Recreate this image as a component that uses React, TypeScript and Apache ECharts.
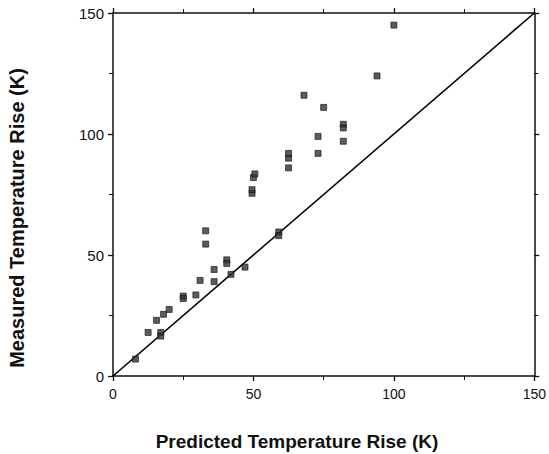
import React, { useEffect, useRef } from "react";
import * as echarts from "echarts";

const predicted = [8, 12.5, 15.5, 17, 17, 18, 20, 25, 25, 29.5, 31, 33, 33, 36, 36, 40.5, 40.5, 42, 47, 49.5, 49.5, 50, 50.5, 59, 59, 62.5, 62.5, 62.5, 68, 73, 73, 75, 82, 82, 82, 94, 100];
const measured = [7, 18, 23, 18, 16.5, 25.5, 27.5, 33, 32, 33.5, 39.5, 60, 54.5, 44, 39, 48, 46.5, 42, 45, 75.5, 77, 82, 83.5, 59.5, 58, 86, 90, 92, 116, 99, 92, 111, 104, 102.5, 97, 124, 145];
const identityLine = [[0, 0], [150, 150]];
const xTitle = "Predicted Temperature Rise (K)";
const yTitle = "Measured Temperature Rise (K)";

export default function App() {
  const ref = useRef<HTMLDivElement>(null);
  useEffect(() => {
    if (!ref.current) return;
    const chart = echarts.init(ref.current, null, { renderer: "svg" });
    const font = "Liberation Sans, Arial, Helvetica, sans-serif";
    const axisCommon = {
      type: "value",
      min: 0,
      max: 150,
      interval: 50,
      splitLine: { show: false },
      axisLine: { show: true, onZero: false, lineStyle: { color: "#111", width: 1.5 } },
      axisTick: { show: true, inside: false, length: 5, lineStyle: { color: "#111", width: 1.3 } },
      minorTick: { show: true, splitNumber: 2, length: 4, lineStyle: { color: "#111", width: 1 } },
    };
    chart.setOption({
      animation: false,
      backgroundColor: "#fff",
      grid: { left: 113, right: 13, top: 13, bottom: 78, containLabel: false },
      graphic: [
        {
          type: "text",
          x: 297,
          y: 441,
          style: {
            text: xTitle,
            fill: "#111",
            font: `bold 19px ${font}`,
            align: "center",
            verticalAlign: "middle",
          },
        },
        {
          type: "text",
          x: 17,
          y: 218,
          rotation: Math.PI / 2,
          style: {
            text: yTitle,
            fill: "#111",
            font: `bold 20px ${font}`,
            align: "center",
            verticalAlign: "middle",
          },
        },
      ],
      xAxis: [
        {
          ...axisCommon,
          position: "bottom",
          axisLabel: { color: "#111", fontSize: 14, fontFamily: font, margin: 11 },
        },
        { ...axisCommon, position: "top", axisLabel: { show: false } },
      ],
      yAxis: [
        {
          ...axisCommon,
          position: "left",
          axisLabel: { color: "#111", fontSize: 15, fontFamily: font, margin: 9 },
        },
        { ...axisCommon, position: "right", axisLabel: { show: false } },
      ],
      series: [
        {
          type: "line",
          data: identityLine,
          symbol: "none",
          lineStyle: { color: "#000", width: 1.6 },
          z: 2,
        },
        {
          type: "scatter",
          data: predicted.map((p, i) => [p, measured[i]]),
          symbol: "rect",
          symbolSize: [6, 6],
          itemStyle: { color: "#333", borderColor: "#111", borderWidth: 0.8 },
          z: 3,
        },
      ],
    });
    return () => chart.dispose();
  }, []);
  return <div ref={ref} style={{ width: 549, height: 454, position: "fixed", left: 0, top: 0 }} />;
}
